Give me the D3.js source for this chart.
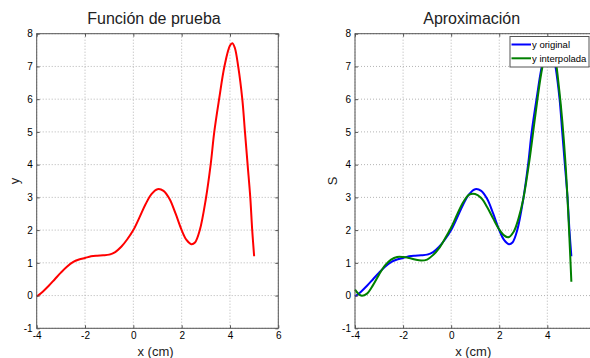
<!DOCTYPE html>
<html>
<head>
<meta charset="utf-8">
<script src="https://cdn.jsdelivr.net/npm/d3@7"></script>
<style>
  body { margin: 0; background: #fff; }
  svg { display: block; font-family: 'Liberation Sans', Arial, sans-serif; }
</style>
</head>
<body>
<svg id="chart" width="590" height="358"></svg>
<script>
// original test function
const xOrig = [-4, -3.75, -3.5, -3.25, -3, -2.75, -2.5, -2.25, -2, -1.75, -1.5, -1.25, -1, -0.75, -0.5, -0.25,
  0, 0.25, 0.5, 0.75, 1, 1.25, 1.5, 1.75, 2, 2.2, 2.4, 2.55, 2.75, 3, 3.2, 3.35, 3.55, 3.77,
  4, 4.1, 4.2, 4.34, 4.51, 4.62, 4.73, 4.84, 4.92, 5];
const yOrig = [-0.03, 0.12, 0.3, 0.5, 0.7, 0.88, 1.02, 1.1, 1.15, 1.2, 1.22, 1.23, 1.25, 1.33, 1.49, 1.72,
  2.0, 2.38, 2.78, 3.1, 3.25, 3.2, 2.95, 2.5, 2.0, 1.7, 1.57, 1.62, 2.0, 2.95, 4.0, 5.0, 6.0, 7.0,
  7.64, 7.71, 7.57, 7.0, 6.0, 5.0, 4.0, 3.0, 2.0, 1.2];

// interpolated curve (right panel, green)
const xInterp = [-4, -3.75, -3.5, -3.25, -3, -2.75, -2.5, -2.25, -2, -1.75, -1.5, -1.25, -1, -0.75, -0.5, -0.25,
  0, 0.25, 0.5, 0.75, 1, 1.25, 1.5, 1.75, 2, 2.2, 2.38, 2.6, 2.8, 3, 3.25, 3.5, 3.75,
  4, 4.1, 4.25, 4.5, 4.75, 5];
const yInterp = [0.18, 0.0, 0.06, 0.32, 0.64, 0.92, 1.1, 1.18, 1.18, 1.15, 1.1, 1.07, 1.1, 1.24, 1.45, 1.75,
  2.08, 2.48, 2.85, 3.08, 3.1, 2.98, 2.7, 2.35, 2.02, 1.84, 1.78, 1.95, 2.35, 2.95, 4.1, 5.5, 6.8,
  7.65, 7.75, 7.55, 6.25, 4.1, 0.42];

const xTicks = [-4, -2, 0, 2, 4, 6];
const yTicks = [-1, 0, 1, 2, 3, 4, 5, 6, 7, 8];
const legendLabels = ['y original', 'y interpolada'];

const svg = d3.select('#chart');
const plotTop = 33.7, plotBottom = 328.3;
const y = d3.scaleLinear().domain([-1, 8]).range([plotBottom, plotTop]);

const drawPanel = (x, title, yLabel, series) => {
  const g = svg.append('g');
  const [x0, x1] = x.range();

  // dotted grid
  g.selectAll('.vgrid').data(xTicks).enter().append('line')
    .attr('x1', d => x(d)).attr('x2', d => x(d))
    .attr('y1', plotTop).attr('y2', plotBottom)
    .attr('stroke', '#b4b4b4').attr('stroke-width', 1).attr('stroke-dasharray', '1,2');
  g.selectAll('.hgrid').data(yTicks).enter().append('line')
    .attr('x1', x0).attr('x2', x1)
    .attr('y1', d => y(d)).attr('y2', d => y(d))
    .attr('stroke', '#b4b4b4').attr('stroke-width', 1).attr('stroke-dasharray', '1,2');

  // curves
  const line = d3.line().x(d => x(d[0])).y(d => y(d[1])).curve(d3.curveCatmullRom.alpha(0.5));
  series.forEach(s => {
    g.append('path')
      .datum(d3.zip(s.xs, s.ys))
      .attr('fill', 'none')
      .attr('stroke', s.color)
      .attr('stroke-width', 2)
      .attr('d', line);
  });

  // axes with inward ticks; labels past the picture's edge are dropped
  const fmt = d => (x(d) > 585 ? '' : String(d));
  const xAxis = g.append('g').attr('transform', `translate(0,${plotBottom})`)
    .call(d3.axisBottom(x).tickValues(xTicks).tickSize(-3).tickPadding(4).tickFormat(fmt));
  const yAxis = g.append('g').attr('transform', `translate(${x0},0)`)
    .call(d3.axisLeft(y).tickValues(yTicks).tickSize(-3).tickPadding(4).tickFormat(d => String(d)));
  g.append('g').attr('transform', `translate(0,${plotTop})`)
    .call(d3.axisTop(x).tickValues(xTicks).tickSize(-3).tickFormat(''));
  g.append('g').attr('transform', `translate(${x1},0)`)
    .call(d3.axisRight(y).tickValues(yTicks).tickSize(-3).tickFormat(''));
  g.selectAll('.domain').remove();
  g.selectAll('.tick line').attr('stroke', '#555');
  [xAxis, yAxis].forEach(a => a.selectAll('text')
    .attr('font-size', 10).attr('fill', '#000')
    .attr('font-family', "'Liberation Sans', Arial, sans-serif"));

  // box
  g.append('rect')
    .attr('x', x0).attr('y', plotTop)
    .attr('width', x1 - x0).attr('height', plotBottom - plotTop)
    .attr('fill', 'none').attr('stroke', '#555').attr('stroke-width', 1);

  // labels
  g.append('text')
    .attr('x', (x0 + x1) / 2 - 3.5).attr('y', 24)
    .attr('text-anchor', 'middle').attr('font-size', 16).attr('fill', '#222')
    .text(title);
  g.append('text')
    .attr('x', (x0 + x1) / 2 - 2).attr('y', 356)
    .attr('text-anchor', 'middle').attr('font-size', 13).attr('fill', '#222')
    .text('x (cm)');
  g.append('text')
    .attr('transform', `translate(${x0 - 18},${(plotTop + plotBottom) / 2}) rotate(-90)`)
    .attr('text-anchor', 'middle').attr('font-size', 13).attr('fill', '#222')
    .text(yLabel);
  return g;
};

// left panel
const xLeft = d3.scaleLinear().domain([-4, 6]).range([36.7, 278.3]);
drawPanel(xLeft, 'Función de prueba', 'y', [
  { xs: xOrig, ys: yOrig, color: '#ff0000' },
]);

// right panel (its right edge falls outside the picture)
const xRight = d3.scaleLinear().domain([-4, 6]).range([355, 595.4]);
const colors = ['#0000ff', '#008000'];
drawPanel(xRight, 'Aproximación', 'S', [
  { xs: xOrig, ys: yOrig, color: colors[0] },
  { xs: xInterp, ys: yInterp, color: colors[1] },
]);

// legend
const legend = svg.append('g').attr('transform', 'translate(510,36.5)');
legend.append('rect')
  .attr('width', 79).attr('height', 30.5)
  .attr('fill', '#fff').attr('stroke', '#555').attr('stroke-width', 1);
legendLabels.forEach((lbl, i) => {
  const ly = 8 + i * 13.8;
  legend.append('line')
    .attr('x1', 1.5).attr('x2', 21).attr('y1', ly).attr('y2', ly)
    .attr('stroke', colors[i]).attr('stroke-width', 2);
  legend.append('text')
    .attr('x', 22).attr('y', ly).attr('dy', '0.35em')
    .attr('font-size', 9.5).attr('fill', '#000')
    .text(lbl);
});
</script>
</body>
</html>
